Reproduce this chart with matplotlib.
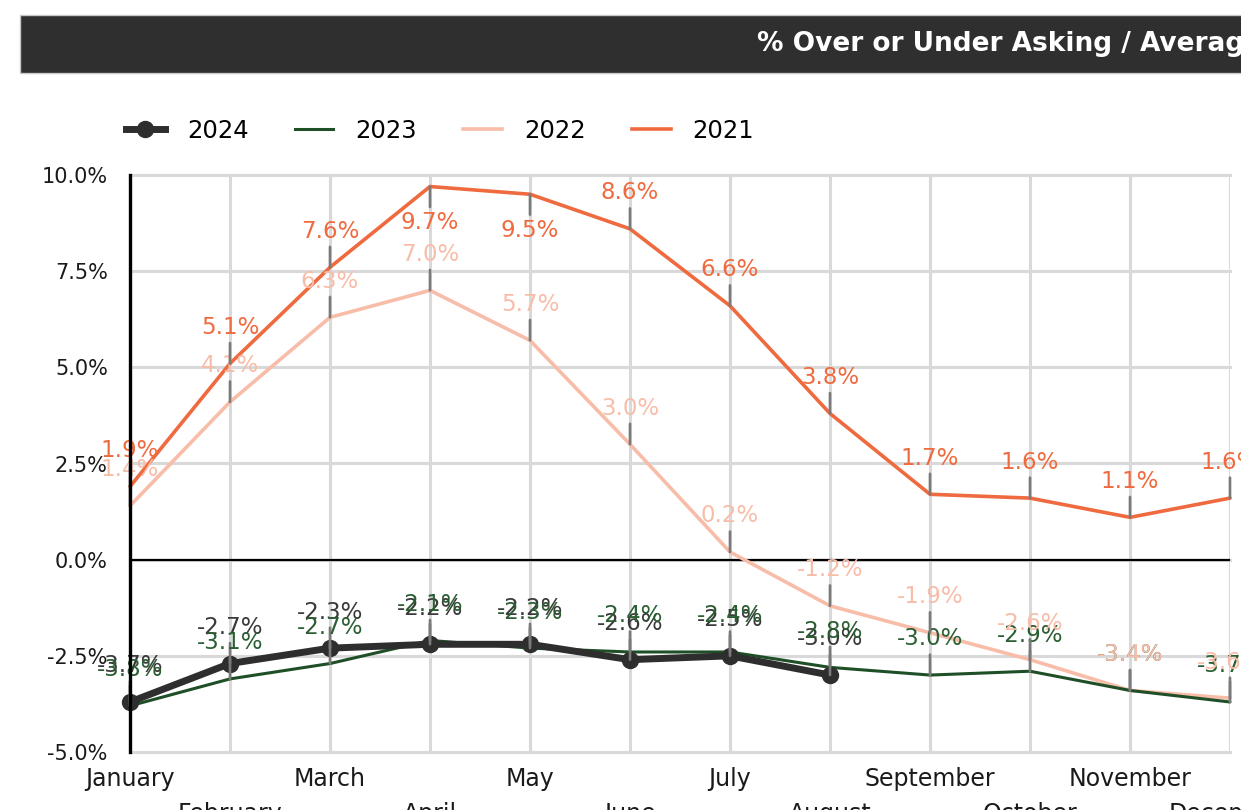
import matplotlib
matplotlib.use("Agg")
import matplotlib.pyplot as plt
from matplotlib.lines import Line2D
from matplotlib.patches import Rectangle

plt.rcParams["font.family"] = ["DejaVu Sans"]

months = ["January", "February", "March", "April", "May", "June",
          "July", "August", "September", "October", "November", "December"]

vals_2024 = [-3.7, -2.7, -2.3, -2.2, -2.2, -2.6, -2.5, -3.0]
vals_2023 = [-3.8, -3.1, -2.7, -2.1, -2.3, -2.4, -2.4, -2.8, -3.0, -2.9, -3.4, -3.7]
vals_2022 = [1.4, 4.1, 6.3, 7.0, 5.7, 3.0, 0.2, -1.2, -1.9, -2.6, -3.4, -3.6]
vals_2021 = [1.9, 5.1, 7.6, 9.7, 9.5, 8.6, 6.6, 3.8, 1.7, 1.6, 1.1, 1.6]

y_ticks = [-5.0, -2.5, 0.0, 2.5, 5.0, 7.5, 10.0]

title = "% Over or Under Asking / Average"

# series styling: name, values, line colour, label colour, width, marker, zorder
series = [
    ("2024", vals_2024, "#2e2e2e", "#3a3a3a", 5.0, "o", 5),
    ("2023", vals_2023, "#1f4f26", "#2b5e33", 2.2, None, 4),
    ("2022", vals_2022, "#f8bda9", "#f8bda9", 2.6, None, 3),
    ("2021", vals_2021, "#ef6a3e", "#ef6a3e", 2.6, None, 3),
]

# labels that sit below their point instead of above
below = {("2021", 3), ("2021", 4)}

fig = plt.figure(figsize=(12.41, 8.10), dpi=100)

# title bar
fig.patches.append(Rectangle((20 / 1241, 1 - 73 / 810), 1.0, 58 / 810,
                             transform=fig.transFigure, facecolor="#2f2f2f",
                             edgecolor="#c8c8c8", linewidth=1, zorder=0))
fig.text(757 / 1241, 1 - 44 / 810, title, color="white", fontsize=19,
         fontweight="bold", ha="left", va="center")

ax = fig.add_axes([130 / 1241, 1 - 752 / 810, 1100 / 1241, 577 / 810])

x_all = list(range(len(months)))
for name, vals, color, lcolor, lw, marker, z in series:
    xs = x_all[:len(vals)]
    ax.plot(xs, vals, color=color, lw=lw, marker=marker, markersize=11.5,
            zorder=z, solid_capstyle="round", clip_on=False)
    for i, v in enumerate(vals):
        dy = -26 if (name, i) in below else 26
        ax.annotate(f"{v:.1f}%", xy=(i, v), xytext=(0, dy),
                    textcoords="offset points", ha="center", va="center",
                    fontsize=16.5, color=lcolor, annotation_clip=False,
                    arrowprops=dict(arrowstyle="-", color="#7a7a7a", lw=1.9,
                                    shrinkA=1, shrinkB=0),
                    zorder=6)

ax.set_xlim(0, len(months) - 1)
ax.set_ylim(-5, 10)
ax.set_yticks(y_ticks)
ax.set_yticklabels([f"{t:.1f}%" for t in y_ticks])

ax.set_xticks(x_all[0::2])
ax.set_xticklabels(months[0::2])
ax.set_xticks(x_all[1::2], minor=True)
ax.set_xticklabels(months[1::2], minor=True)

ax.tick_params(axis="both", which="both", length=0, colors="#1a1a1a")
ax.tick_params(axis="y", pad=16, labelsize=15)
ax.tick_params(axis="x", which="both", labelsize=17)
ax.tick_params(axis="x", which="major", pad=11)
ax.tick_params(axis="x", which="minor", pad=36)

ax.grid(True, which="both", axis="x", color="#d9d9d9", lw=2.2, zorder=0)
ax.grid(True, which="major", axis="y", color="#d9d9d9", lw=2.2, zorder=0)
for gl in ax.get_ygridlines() + ax.get_xgridlines():
    gl.set_clip_on(False)
ax.set_axisbelow(True)
ax.axhline(0, color="black", lw=1.6, zorder=2)

for side in ["top", "right", "bottom"]:
    ax.spines[side].set_visible(False)
ax.spines["left"].set_linewidth(2.4)
ax.spines["left"].set_color("black")
ax.spines["left"].set_zorder(7)

handles = [Line2D([], [], color=c, lw=lw, marker=m, markersize=11.5)
           for _, _, c, _, lw, m, _ in series]
fig.legend(handles, [s[0] for s in series], loc="center left",
           bbox_to_anchor=(126 / 1241, 1 - 131 / 810), ncol=4, frameon=False,
           fontsize=17.5, handlelength=1.6, handletextpad=0.9, columnspacing=1.9,
           borderpad=0, borderaxespad=0)

fig.savefig("out.png", dpi=100)
